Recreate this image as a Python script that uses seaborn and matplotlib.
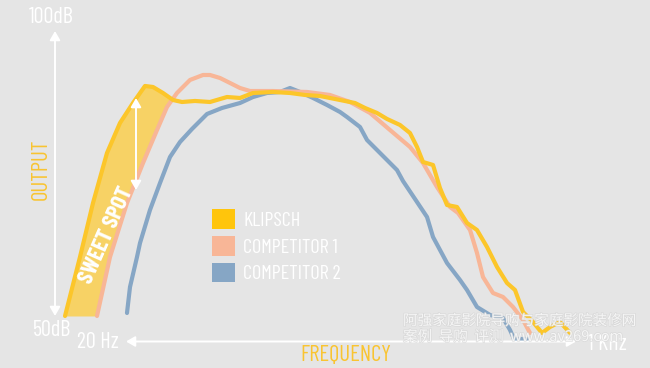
import matplotlib
matplotlib.use("Agg")
import matplotlib.pyplot as plt
import matplotlib.patheffects as pe
from matplotlib.patches import Patch
import numpy as np
import pandas as pd
import seaborn as sns

# ---------------- data (frequency in Hz, output in dB) ----------------
klipsch_hz = [11.44, 13.01, 14.55, 16.41, 18.35, 20.52, 22.75, 24.37, 26.56, 28.95,
              31.28, 34.97, 39.79, 46.05, 51.50, 57.59, 68.39, 79.15, 90.06, 102.4,
              121.7, 138.4, 150.9, 167.2, 182.3, 203.8, 222.1, 235.9, 248.4, 270.7,
              287.4, 305.3, 332.7, 362.6, 395.1, 430.6, 469.3, 511.4, 547.8, 586.9,
              639.5, 691.0, 740.2, 806.7, 879.1]
klipsch_db = [50.0, 60.42, 69.96, 78.80, 84.10, 87.63, 90.64, 90.46, 89.40, 88.16,
              87.81, 87.99, 87.81, 88.69, 88.52, 89.40, 89.58, 89.40, 89.05, 88.87,
              88.16, 87.63, 86.75, 85.87, 84.81, 83.75, 82.33, 79.86, 77.21, 76.68,
              72.61, 69.61, 69.26, 66.43, 65.19, 62.19, 58.66, 55.83, 54.59, 50.71,
              48.94, 47.00, 48.06, 48.94, 47.00]

comp1_hz = [15.06, 16.84, 19.49, 22.37, 25.23, 27.49, 29.96, 33.50, 37.46, 39.79,
            43.36, 47.25, 51.50, 56.12, 68.39, 91.62, 111.6, 132.6, 157.5, 187.0,
            222.1, 248.4, 280.1, 313.3, 335.6, 372.1, 395.1, 416.0, 453.4, 494.1,
            538.5, 586.9, 623.2]
comp1_db = [50.0, 60.42, 69.96, 77.03, 82.86, 86.93, 89.40, 91.70, 92.58, 92.58,
            92.05, 91.17, 90.28, 89.75, 89.75, 89.58, 89.05, 87.81, 85.87, 82.86,
            79.86, 77.03, 72.79, 69.26, 68.20, 65.19, 61.13, 56.89, 54.06, 53.36,
            51.59, 49.29, 47.00]

comp2_hz = [19.49, 20.00, 21.24, 21.80, 23.75, 25.89, 28.21, 30.74, 34.08, 38.78,
            44.11, 51.50, 57.59, 64.95, 72.63, 79.15, 86.26, 96.46, 108.8, 121.7,
            129.2, 144.5, 153.5, 171.6, 198.6, 209.1, 235.9, 257.1, 270.7, 305.3,
            341.4, 362.6, 395.1, 441.9, 494.1, 524.8, 543.1, 607.4]
comp2_db = [50.53, 55.12, 60.42, 62.90, 68.73, 73.50, 78.09, 80.74, 83.04, 85.69,
            86.75, 87.63, 88.69, 89.40, 89.58, 90.28, 89.58, 88.52, 87.28, 86.04,
            85.16, 83.39, 81.09, 78.80, 75.79, 73.85, 70.14, 67.49, 63.96, 59.36,
            56.36, 54.59, 51.59, 50.18, 49.65, 47.53, 45.94, 45.94]

series_names = ["KLIPSCH", "COMPETITOR 1", "COMPETITOR 2"]
y_labels = ["100dB", "50dB"]
x_labels = ["20 Hz", "1 KHz"]
axis_titles = ["OUTPUT", "FREQUENCY"]
sweet_spot_label = "SWEET SPOT"
watermark_lines = ["阿强家庭影院导购与家庭影院装修网", "案例  导购  评测  www.av269.com"]

# ---------------- style ----------------
BG = "#E5E5E5"
C_K = "#FCC62A"
C_K_SQ = "#FFC50C"
C_1 = "#F8B697"
C_2 = "#86A6C5"
C_FILL = "#F7D265"
C_AXTXT = "#F9C431"

sns.set_theme(style="white")
COND = ["Barlow Condensed", "DejaVu Sans"]
plt.rcParams["font.family"] = COND

fig = plt.figure(figsize=(6.5, 3.68), dpi=100, facecolor=BG)
ax = fig.add_axes([0, 0, 1, 1])
ax.set_facecolor(BG)
ax.set_xscale("log")

# sweet spot fill between Klipsch and Competitor 1
grid = np.geomspace(klipsch_hz[0], 28.6, 200)
upper = np.interp(np.log(grid), np.log(klipsch_hz), klipsch_db)
lower = np.interp(np.log(grid), np.log(comp1_hz), comp1_db, left=50.0)
lower = np.maximum(lower, 50.0)
ax.fill_between(grid, lower, upper, where=upper >= lower, color=C_FILL,
                linewidth=0, zorder=1)

df = pd.concat([
    pd.DataFrame({"hz": comp2_hz, "db": comp2_db, "s": series_names[2]}),
    pd.DataFrame({"hz": comp1_hz, "db": comp1_db, "s": series_names[1]}),
    pd.DataFrame({"hz": klipsch_hz, "db": klipsch_db, "s": series_names[0]}),
])
for name, col in [(series_names[2], C_2), (series_names[1], C_1), (series_names[0], C_K)]:
    sub = df[df["s"] == name]
    sns.lineplot(data=sub, x="hz", y="db", ax=ax, color=col, lw=3.0,
                 estimator=None, sort=False, legend=False, zorder=3,
                 solid_capstyle="round", solid_joinstyle="round")
ax.set_xlim(6.5406, 1748.6)
ax.set_ylim(40.81, 105.83)
ax.axis("off")

def fx(px):
    return px / 650.0

def fy(py):
    return 1 - py / 368.0

arrow_kw = dict(arrowstyle="<|-|>,head_length=0.38,head_width=0.22",
                color="white", lw=1.4, mutation_scale=14, shrinkA=0, shrinkB=0)
# y axis
ax.annotate("", xy=(fx(55), fy(31)), xytext=(fx(55), fy(316)),
            xycoords="axes fraction", textcoords="axes fraction", arrowprops=arrow_kw)
# x axis
ax.annotate("", xy=(fx(126), fy(341.5)), xytext=(fx(576), fy(341.5)),
            xycoords="axes fraction", textcoords="axes fraction", arrowprops=arrow_kw)
# sweet spot arrow
ax.annotate("", xy=(fx(136), fy(98)), xytext=(fx(136), fy(190)),
            xycoords="axes fraction", textcoords="axes fraction", arrowprops=arrow_kw,
            zorder=5)

tkw = dict(transform=ax.transAxes, color="white", fontsize=16, fontweight="normal",
           ha="center", va="center")
ax.text(fx(51), fy(17.5), y_labels[0], **tkw)
ax.text(fx(52), fy(331), y_labels[1], **tkw)
ax.text(fx(98), fy(343), x_labels[0], **tkw)
ax.text(fx(607), fy(345), x_labels[1], **tkw)
ax.text(fx(41), fy(169), axis_titles[0], transform=ax.transAxes, color=C_AXTXT,
        fontsize=16.5, fontweight="normal", rotation=90, ha="center", va="center")
ax.text(fx(346), fy(355), axis_titles[1], transform=ax.transAxes, color=C_AXTXT,
        fontsize=16.5, fontweight="normal", ha="center", va="center")
ax.text(fx(107), fy(235), sweet_spot_label, transform=ax.transAxes, color="white",
        fontsize=16.5, fontweight="bold", rotation=66, ha="center", va="center", zorder=6)

handles = [Patch(facecolor=c, edgecolor="none") for c in (C_K_SQ, C_1, C_2)]
leg = ax.legend(handles, series_names, loc="upper left",
                bbox_to_anchor=(fx(212), fy(209)), bbox_transform=ax.transAxes,
                frameon=False, prop={"family": COND, "size": 14.5, "weight": "normal"},
                handlelength=1.14, handleheight=1.14,
                handletextpad=0.4, labelspacing=0.3, borderpad=0, borderaxespad=0)
for t in leg.get_texts():
    t.set_color("white")

wm = dict(transform=ax.transAxes, fontsize=10.5, color="white", alpha=0.7,
          ha="left", va="center", family=["Noto Sans CJK SC", "DejaVu Sans"],
          path_effects=[pe.withStroke(linewidth=1.0, foreground="#D4D4D4")], zorder=10)
ax.text(fx(403), fy(321), watermark_lines[0], **wm)
ax.text(fx(403), fy(337), watermark_lines[1], **wm)

fig.savefig("out.png", dpi=100, facecolor=BG)
